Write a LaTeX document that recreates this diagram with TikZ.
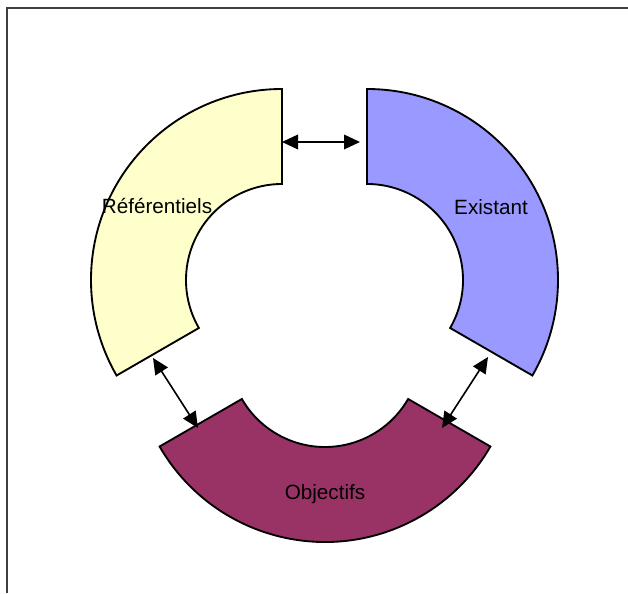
\documentclass[tikz,border=0pt]{standalone}
\usepackage{fontspec}
\setmainfont{Liberation Sans}
\usetikzlibrary{arrows.meta}
\definecolor{refcol}{HTML}{FFFFCC}
\definecolor{exicol}{HTML}{9999FF}
\definecolor{objcol}{HTML}{993366}
\begin{document}
\begin{tikzpicture}[x=0.75pt, y=0.75pt, >={Triangle[length=12pt, width=11pt]},
    sector/.style={draw, line width=1.4pt},
    link/.style={<->, line width=1.2pt},
    every node/.style={font=\fontsize{15.5}{18}\selectfont}]
    \useasboundingbox (0,0) rectangle (628,593);
    \draw[line width=1.1pt, black!75] (7,0) -- (7,585) -- (628,585);

    \filldraw[sector, fill=refcol] (282,313) ++(90:191) arc[start angle=90, end angle=210, radius=191]
      -- ++(30:95) arc[start angle=210, end angle=90, radius=96] -- cycle;
    \filldraw[sector, fill=exicol] (367,313) ++(90:191) arc[start angle=90, end angle=-30, radius=191]
      -- ++(150:95) arc[start angle=-30, end angle=90, radius=96] -- cycle;
    \filldraw[sector, fill=objcol] (325,242) ++(210:191) arc[start angle=210, end angle=330, radius=191]
      -- ++(150:95) arc[start angle=330, end angle=210, radius=96] -- cycle;

    \node (ref) at (157,387) {Référentiels};
    \node (exi) at (491,386) {Existant};
    \node (obj) at (325,99) {Objectifs};

    \coordinate (refA) at (282,451);
    \coordinate (exiA) at (360,451);
    \coordinate (refB) at (153,235);
    \coordinate (objB) at (198,165);
    \coordinate (exiC) at (488,236);
    \coordinate (objC) at (442,165);
    \draw[link] (refA) -- (exiA);
    \draw[link] (refB) -- (objB);
    \draw[link] (exiC) -- (objC);
\end{tikzpicture}
\end{document}
